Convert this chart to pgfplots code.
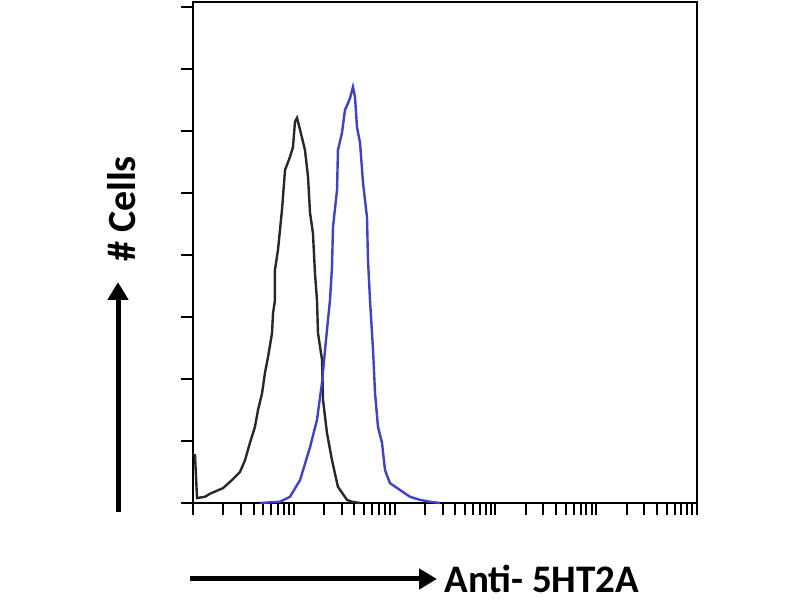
\documentclass[border=0pt]{standalone}
\usepackage{pgfplots}
\pgfplotsset{compat=1.18}
\usepackage{fontspec}
\setmainfont{Carlito}
\usetikzlibrary{arrows.meta}
\definecolor{ctrl}{RGB}{40,40,40}
\definecolor{stain}{RGB}{65,65,195}
\begin{document}
\begin{tikzpicture}
\useasboundingbox (0,0) rectangle (400pt,300pt);
\begin{axis}[
  at={(96.5pt,48.5pt)}, anchor=south west,
  scale only axis, width=252pt, height=250.5pt,
  xmin=0, xmax=5, ymin=0, ymax=8.08,
  xtick={0,1,2,3,4,5},
  minor xtick={0.301,0.477,0.602,0.699,0.778,0.845,0.903,0.954,
               1.301,1.477,1.602,1.699,1.778,1.845,1.903,1.954,
               2.301,2.477,2.602,2.699,2.778,2.845,2.903,2.954,
               3.301,3.477,3.602,3.699,3.778,3.845,3.903,3.954,
               4.301,4.477,4.602,4.699,4.778,4.845,4.903,4.954},
  ytick={0,1,2,3,4,5,6,7,8},
  xticklabels={}, yticklabels={},
  tick align=outside, xtick pos=bottom, ytick pos=left,
  major tick length=6pt, minor tick length=6pt,
  every tick/.style={black, line width=1pt},
  axis line style={line width=1.2pt},
  clip=false,
]
\addplot[ctrl, line width=1.2pt] coordinates {
(0,0.77) (0.02,0.77) (0.04,0.08) (0.119,0.10) (0.169,0.15) (0.298,0.24)
(0.387,0.37) (0.466,0.50) (0.516,0.69) (0.565,0.97) (0.615,1.23) (0.645,1.50)
(0.685,1.77) (0.714,2.10) (0.744,2.35) (0.784,2.74) (0.794,3.06) (0.813,3.27)
(0.813,3.76) (0.843,4.08) (0.883,4.73) (0.913,5.37) (0.962,5.58) (0.992,5.74)
(1.012,6.15) (1.032,6.21) (1.062,6.02) (1.111,5.69) (1.141,5.26) (1.161,4.68)
(1.190,4.35) (1.210,3.71) (1.230,3.27) (1.240,2.74) (1.280,2.31) (1.290,1.66)
(1.329,1.13) (1.379,0.69) (1.438,0.26) (1.528,0.05) (1.577,0.02) (1.657,0)
};
\addplot[stain, line width=1.2pt] coordinates {
(0.665,0) (0.863,0.02) (0.962,0.10) (1.062,0.37) (1.161,0.90) (1.230,1.34)
(1.280,1.94) (1.310,2.47) (1.339,2.95) (1.359,3.27) (1.379,3.81) (1.389,4.45)
(1.429,5.05) (1.438,5.69) (1.478,5.97) (1.508,6.34) (1.538,6.45) (1.558,6.53)
(1.587,6.71) (1.607,6.55) (1.627,6.06) (1.657,5.81) (1.687,5.16) (1.726,4.61)
(1.736,3.92) (1.756,3.27) (1.786,2.47) (1.806,1.77) (1.835,1.23) (1.875,0.97)
(1.905,0.53) (1.954,0.32) (2.054,0.21) (2.153,0.10) (2.252,0.05) (2.351,0.02)
(2.450,0)
};
\end{axis}
% y label with arrow
\draw[line width=2.5pt, -{Triangle[width=10pt,length=9pt]}] (59pt,44pt) -- (59pt,159pt);
\node[rotate=90, font=\fontsize{20}{24}\selectfont\bfseries] at (61pt,195.5pt) {\# Cells};
% x label with arrow
\draw[line width=2.5pt, -{Triangle[width=10pt,length=9pt]}] (95pt,10.5pt) -- (218.5pt,10.5pt);
\node[anchor=west, inner sep=0pt, font=\fontsize{19.5}{23}\selectfont\bfseries] at (222pt,10.5pt) {Anti- 5HT2A};
\end{tikzpicture}
\end{document}
